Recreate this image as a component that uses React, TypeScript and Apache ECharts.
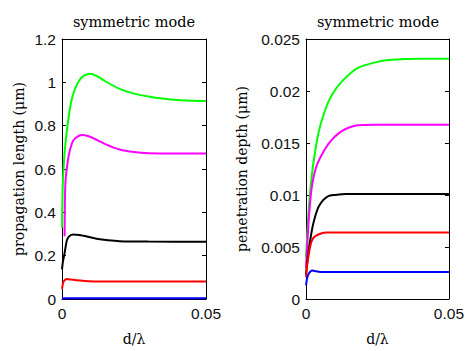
import React, { useEffect, useRef } from "react";
import * as echarts from "echarts";

// Left panel: propagation length (µm) vs d/λ
const greenLx = [0, 0.0002, 0.0006, 0.0011, 0.0023, 0.0035, 0.005, 0.007, 0.0097, 0.012, 0.015, 0.02, 0.025, 0.03, 0.035, 0.04, 0.045, 0.05];
const greenLy = [0.33, 0.5, 0.615, 0.705, 0.84, 0.928, 0.985, 1.025, 1.04, 1.03, 1.005, 0.97, 0.948, 0.935, 0.925, 0.918, 0.915, 0.914];
const magentaLx = [0.0009, 0.001, 0.0012, 0.0015, 0.0023, 0.0035, 0.0046, 0.0069, 0.009, 0.012, 0.015, 0.02, 0.025, 0.03, 0.04, 0.05];
const magentaLy = [0.29, 0.45, 0.54, 0.585, 0.66, 0.72, 0.742, 0.757, 0.752, 0.735, 0.715, 0.69, 0.678, 0.673, 0.672, 0.672];
const blackLx = [0, 0.0003, 0.0009, 0.0017, 0.0025, 0.004, 0.006, 0.009, 0.012, 0.016, 0.02, 0.03, 0.05];
const blackLy = [0.137, 0.17, 0.212, 0.271, 0.29, 0.298, 0.295, 0.287, 0.278, 0.271, 0.267, 0.265, 0.264];
const redLx = [0, 0.0004, 0.001, 0.0017, 0.003, 0.005, 0.008, 0.012, 0.05];
const redLy = [0.047, 0.075, 0.088, 0.092, 0.09, 0.086, 0.083, 0.081, 0.081];
const blueLx = [0, 0.001, 0.05];
const blueLy = [0.002, 0.004, 0.004];

// Right panel: penetration depth (µm) vs d/λ
const greenRx = [0, 0.0005, 0.001, 0.0017, 0.0026, 0.0043, 0.0066, 0.009, 0.0125, 0.018, 0.025, 0.03, 0.04, 0.05];
const greenRy = [0.004, 0.0065, 0.0088, 0.011, 0.0131, 0.0159, 0.0181, 0.0196, 0.0209, 0.0222, 0.0228, 0.023, 0.0231, 0.0231];
const magentaRx = [0, 0.0005, 0.001, 0.002, 0.0037, 0.0066, 0.009, 0.0113, 0.0135, 0.018, 0.025, 0.05];
const magentaRy = [0.003, 0.0055, 0.0078, 0.0107, 0.0128, 0.0144, 0.0153, 0.0159, 0.0163, 0.0167, 0.01675, 0.01676];
const blackRx = [0, 0.0003, 0.0007, 0.0015, 0.0025, 0.0043, 0.006, 0.0078, 0.01, 0.014, 0.05];
const blackRy = [0.0023, 0.0032, 0.0042, 0.0057, 0.0072, 0.0088, 0.0095, 0.0099, 0.01, 0.0101, 0.0101];
const redRx = [0, 0.0003, 0.0007, 0.0015, 0.0025, 0.0043, 0.007, 0.05];
const redRy = [0.0021, 0.003, 0.0038, 0.0051, 0.00585, 0.0062, 0.0064, 0.0064];
const blueRx = [0, 0.0004, 0.001, 0.0021, 0.003, 0.005, 0.05];
const blueRy = [0.0013, 0.002, 0.00245, 0.00275, 0.0027, 0.0026, 0.0026];

const titles = ["symmetric mode", "symmetric mode"];
const yNames = ["propagation length (\u03bcm)", "penetration depth (\u03bcm)"];
const xName = "d/\u03bb";
const xMax = 0.05;
const yLeftMax = 1.2;
const yLeftStep = 0.2;
const yRightMax = 0.025;
const yRightStep = 0.005;

const zip = (xs: number[], ys: number[]) => xs.map((x, i) => [x, ys[i]]);

const SANS = "'Liberation Sans', Arial, sans-serif";
const SERIF = "'DejaVu Serif', serif";

export default function App() {
  const ref = useRef<HTMLDivElement>(null);
  useEffect(() => {
    if (!ref.current) return;
    const chart = echarts.init(ref.current, undefined, { renderer: "svg" });
    const fmt = (v: number) => String(+v.toFixed(4));
    const axisLine = { show: true, onZero: false, lineStyle: { color: "#000", width: 1 } };
    const tick = { show: true, inside: true, length: 4, lineStyle: { color: "#000" } };
    const grids = [
      { left: 62, top: 39, width: 144, height: 268 },
      { left: 306, top: 39, width: 144, height: 269 },
    ];
    const xAxes: any[] = [];
    const yAxes: any[] = [];
    [0, 1].forEach((g) => {
      xAxes.push({
        gridIndex: g, type: "value", min: 0, max: xMax, interval: xMax, position: "bottom",
        name: xName, nameLocation: "middle", nameGap: 33,
        nameTextStyle: { fontFamily: SERIF, fontSize: 14, color: "#000" },
        axisLine, axisTick: tick,
        axisLabel: { fontFamily: SANS, fontSize: 15.5, color: "#111", margin: 6, formatter: fmt },
        splitLine: { show: false },
      });
      xAxes.push({
        gridIndex: g, type: "value", min: 0, max: xMax, interval: xMax, position: "top",
        axisLine, axisTick: { show: false }, axisLabel: { show: false }, splitLine: { show: false },
      });
      const max = g === 0 ? yLeftMax : yRightMax;
      const step = g === 0 ? yLeftStep : yRightStep;
      yAxes.push({
        gridIndex: g, type: "value", min: 0, max, interval: step, position: "left",
        name: yNames[g], nameLocation: "middle", nameGap: g === 0 ? 36 : 57,
        nameTextStyle: { fontFamily: SERIF, fontSize: 14, color: "#000" },
        axisLine, axisTick: tick,
        axisLabel: { fontFamily: SANS, fontSize: 15.5, color: "#111", margin: 6, formatter: fmt },
        splitLine: { show: false },
      });
      yAxes.push({
        gridIndex: g, type: "value", min: 0, max, interval: step, position: "right",
        axisLine, axisTick: tick,
        axisLabel: { show: false }, splitLine: { show: false },
      });
    });
    const mk = (xs: number[], ys: number[], color: string, g: number) => ({
      type: "line",
      xAxisIndex: g * 2,
      yAxisIndex: g * 2,
      data: zip(xs, ys),
      showSymbol: false,
      smooth: 0.25,
      lineStyle: { color, width: 2 },
      itemStyle: { color },
    });
    chart.setOption({
      animation: false,
      backgroundColor: "#fff",
      title: titles.map((t, i) => ({
        text: t,
        left: grids[i].left + grids[i].width / 2,
        top: 14,
        padding: 0,
        textAlign: "center",
        textStyle: { fontFamily: SERIF, fontSize: 14.5, fontWeight: "normal", color: "#000" },
      })),
      grid: grids,
      xAxis: xAxes,
      yAxis: yAxes,
      series: [
        mk(greenLx, greenLy, "#00ff00", 0),
        mk(magentaLx, magentaLy, "#ff00ff", 0),
        mk(blackLx, blackLy, "#000000", 0),
        mk(redLx, redLy, "#ff0000", 0),
        mk(blueLx, blueLy, "#0000ff", 0),
        mk(greenRx, greenRy, "#00ff00", 1),
        mk(magentaRx, magentaRy, "#ff00ff", 1),
        mk(blackRx, blackRy, "#000000", 1),
        mk(redRx, redRy, "#ff0000", 1),
        mk(blueRx, blueRy, "#0000ff", 1),
      ],
    });
    return () => chart.dispose();
  }, []);
  return (
    <div
      ref={ref}
      style={{ position: "fixed", left: 0, top: 0, width: 467, height: 351, background: "#fff" }}
    />
  );
}
